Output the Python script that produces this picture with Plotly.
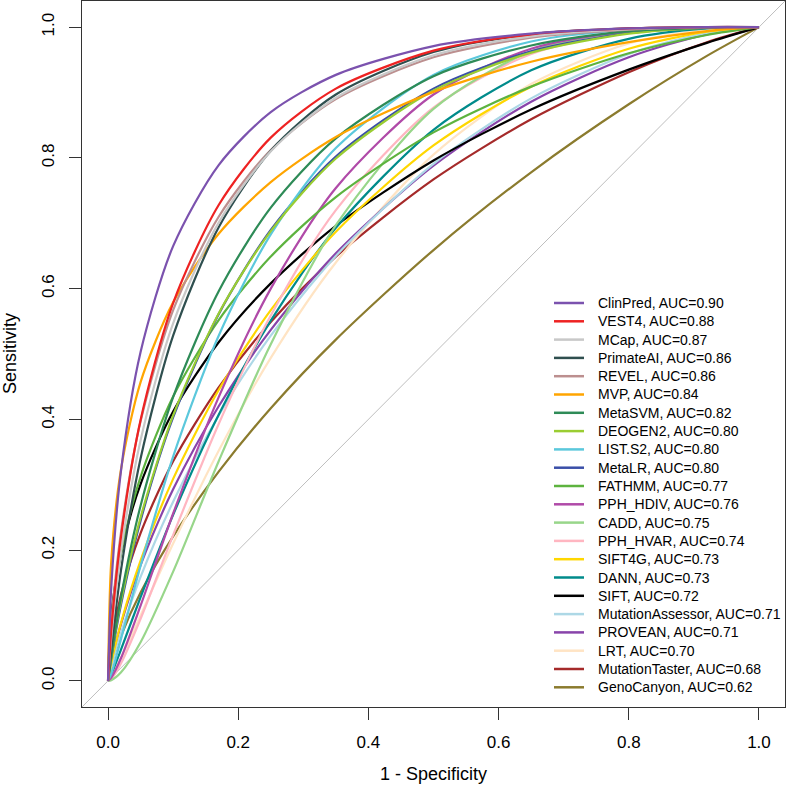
import plotly.graph_objects as go

# false positive rate grid shared by all curves
fpr = [0, 0.005, 0.02, 0.05, 0.1, 0.17, 0.25, 0.35, 0.5, 0.65, 0.8, 0.92, 1.0]

tools = ['ClinPred', 'VEST4', 'MCap', 'PrimateAI', 'REVEL', 'MVP', 'MetaSVM', 'DEOGEN2',
         'LIST.S2', 'MetaLR', 'FATHMM', 'PPH_HDIV', 'CADD', 'PPH_HVAR', 'SIFT4G', 'DANN',
         'SIFT', 'MutationAssessor', 'PROVEAN', 'LRT', 'MutationTaster', 'GenoCanyon']
auc = [0.90, 0.88, 0.87, 0.86, 0.86, 0.84, 0.82, 0.80, 0.80, 0.80, 0.77, 0.76, 0.75,
       0.74, 0.73, 0.73, 0.72, 0.71, 0.71, 0.70, 0.68, 0.62]

colors = ['#7B52AE', '#EE2222', '#C8C8C8', '#2F4F4F', '#BC8F8F', '#FFA500', '#2E8B57',
          '#9ACD32', '#5BC8DC', '#3A4FA8', '#5DB33F', '#B04AA8', '#98D68A', '#FFB6C1',
          '#FFD700', '#008B8B', '#000000', '#ADD8E6', '#8844AA', '#FFE4C4', '#A52A2A',
          '#8B7B2E']

clinpred = [0, 0.144, 0.322, 0.503, 0.665, 0.789, 0.870, 0.927, 0.971, 0.990, 0.998, 1.0, 1.0]
vest4 = [0, 0.078, 0.221, 0.399, 0.578, 0.728, 0.831, 0.906, 0.964, 0.989, 0.998, 1.0, 1.0]
mcap = [0, 0.067, 0.198, 0.368, 0.547, 0.701, 0.810, 0.892, 0.957, 0.986, 0.997, 1.0, 1.0]
primateai = [0, 0.049, 0.170, 0.340, 0.528, 0.694, 0.811, 0.897, 0.962, 0.989, 0.998, 1.0, 1.0]
revel = [0, 0.087, 0.228, 0.397, 0.567, 0.710, 0.812, 0.890, 0.954, 0.984, 0.996, 1.0, 1.0]
mvp = [0, 0.184, 0.324, 0.457, 0.579, 0.684, 0.763, 0.832, 0.901, 0.947, 0.977, 0.994, 1.0]
metasvm = [0, 0.037, 0.129, 0.268, 0.434, 0.596, 0.724, 0.830, 0.925, 0.972, 0.994, 0.999, 1.0]
deogen2 = [0, 0.037, 0.122, 0.250, 0.406, 0.562, 0.688, 0.799, 0.903, 0.961, 0.990, 0.999, 1.0]
lists2 = [0, 0.011, 0.064, 0.176, 0.343, 0.528, 0.683, 0.815, 0.927, 0.978, 0.996, 1.0, 1.0]
metalr = [0, 0.034, 0.117, 0.245, 0.403, 0.561, 0.690, 0.802, 0.906, 0.963, 0.991, 0.999, 1.0]
fathmm = [0, 0.092, 0.195, 0.312, 0.435, 0.552, 0.649, 0.740, 0.839, 0.909, 0.960, 0.988, 1.0]
pph_hdiv = [0, 0.005, 0.035, 0.115, 0.256, 0.434, 0.600, 0.754, 0.897, 0.967, 0.994, 1.0, 1.0]
cadd = [0, 0.001, 0.013, 0.059, 0.167, 0.336, 0.515, 0.697, 0.875, 0.963, 0.994, 1.0, 1.0]
pph_hvar = [0, 0.003, 0.027, 0.095, 0.223, 0.393, 0.559, 0.720, 0.877, 0.959, 0.992, 1.0, 1.0]
sift4g = [0, 0.027, 0.089, 0.184, 0.309, 0.445, 0.567, 0.687, 0.819, 0.909, 0.967, 0.993, 1.0]
dann = [0, 0.010, 0.048, 0.128, 0.254, 0.407, 0.551, 0.693, 0.843, 0.934, 0.982, 0.998, 1.0]
sift = [0, 0.100, 0.196, 0.301, 0.412, 0.518, 0.608, 0.696, 0.796, 0.874, 0.935, 0.976, 1.0]
mutassessor = [0, 0.022, 0.074, 0.159, 0.274, 0.406, 0.528, 0.650, 0.791, 0.891, 0.959, 0.991, 1.0]
provean = [0, 0.028, 0.087, 0.177, 0.293, 0.420, 0.537, 0.654, 0.788, 0.886, 0.954, 0.989, 1.0]
lrt = [0, 0.006, 0.035, 0.100, 0.210, 0.352, 0.494, 0.640, 0.805, 0.913, 0.975, 0.996, 1.0]
muttaster = [0, 0.056, 0.132, 0.226, 0.336, 0.449, 0.549, 0.649, 0.767, 0.859, 0.931, 0.977, 1.0]
genocanyon = [0, 0.025, 0.069, 0.135, 0.221, 0.320, 0.417, 0.522, 0.659, 0.778, 0.882, 0.956, 1.0]

tpr = [clinpred, vest4, mcap, primateai, revel, mvp, metasvm, deogen2, lists2, metalr,
       fathmm, pph_hdiv, cadd, pph_hvar, sift4g, dann, sift, mutassessor, provean, lrt,
       muttaster, genocanyon]

# pixel layout of the R device
W, H = 788, 790
L, R, T, B = 82, 3, 1, 83
pw, ph = W - L - R, H - T - B


def px(x):
    return (x - L) / pw


def py(y):
    return (H - B - y) / ph


fig = go.Figure()

# diagonal reference line
fig.add_trace(go.Scatter(x=[-0.04, 1.04], y=[-0.04, 1.04], mode='lines',
                         line=dict(color='#BEBEBE', width=1), showlegend=False,
                         hoverinfo='skip'))

# draw in reverse so the first tools sit on top
for name, ys, col in reversed(list(zip(tools, tpr, colors))):
    fig.add_trace(go.Scatter(x=fpr, y=ys, mode='lines', name=name,
                             line=dict(color=col, width=2.2, shape='spline', smoothing=0.8),
                             showlegend=False))

# hand-drawn legend, R style
for i, (name, a, col) in enumerate(zip(tools, auc, colors)):
    yy = 303 + i * 18.3
    fig.add_shape(type='line', xref='paper', yref='paper', x0=px(554), x1=px(584),
                  y0=py(yy), y1=py(yy), line=dict(color=col, width=2.5))
    fig.add_annotation(xref='paper', yref='paper', x=px(596), y=py(yy), text=f'{name}, AUC={a:.2f}',
                       showarrow=False, xanchor='left', yanchor='middle',
                       font=dict(size=14, color='black'))

fig.add_annotation(xref='paper', yref='paper', x=px(10), y=0.5, text='Sensitivity', textangle=-90,
                   showarrow=False, xanchor='center', yanchor='middle', font=dict(size=18, color='black'))
fig.add_annotation(xref='paper', yref='paper', x=0.5, y=py(774), text='1 - Specificity',
                   showarrow=False, xanchor='center', yanchor='middle', font=dict(size=18, color='black'))

axis = dict(range=[-0.04, 1.04], tickvals=[0, 0.2, 0.4, 0.6, 0.8, 1.0],
            ticktext=['0.0', '0.2', '0.4', '0.6', '0.8', '1.0'], ticks='outside', ticklen=12,
            tickcolor='#333333', showline=True, linecolor='#333333', linewidth=1, mirror=True,
            showgrid=False, zeroline=False, tickfont=dict(size=17, color='black'),
            ticklabelstandoff=8)

fig.update_xaxes(**axis)
fig.update_yaxes(**axis, tickangle=-90)

fig.update_layout(
    width=W, height=H,
    margin=dict(l=L, r=R, t=T, b=B),
    paper_bgcolor='white', plot_bgcolor='white',
    font=dict(family='Liberation Sans, Arial, sans-serif'),
    showlegend=False,
)

fig.write_html('out.html', config={'displayModeBar': False},
               post_script="document.body.style.margin='0';")
